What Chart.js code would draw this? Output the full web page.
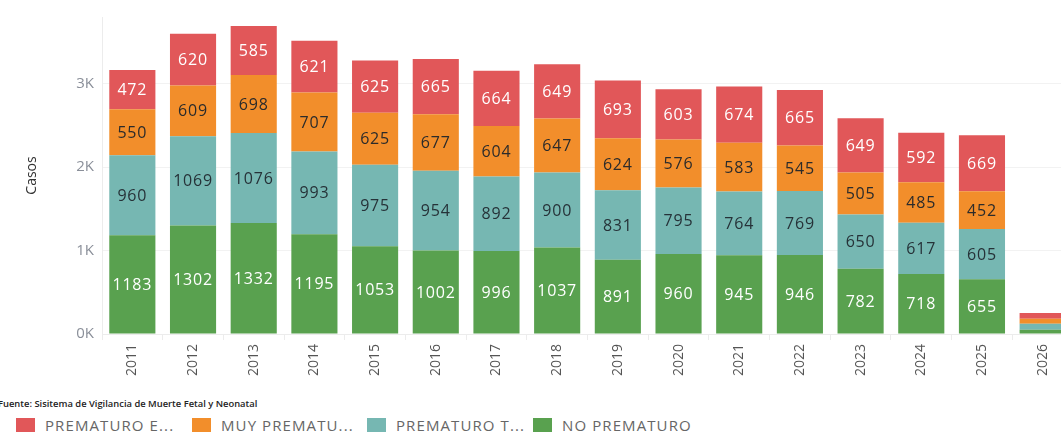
<!DOCTYPE html>
<html>
<head>
<meta charset="utf-8">
<script src="https://cdn.jsdelivr.net/npm/chart.js@4.4.1/dist/chart.umd.min.js"></script>
<style>
  html, body { margin: 0; padding: 0; background: #fff; width: 1061px; height: 432px; overflow: hidden; }
  #wrap { position: absolute; left: 0; top: 0; width: 1080px; height: 390px; }
  #note { position: absolute; left: -2px; top: 397px; font: 600 9.4px "Open Sans", sans-serif; color: #222; white-space: nowrap; }
  #legend { position: absolute; left: 0; top: 418px; height: 20px; font: 15px "Open Sans", sans-serif; color: #666; letter-spacing: 1.1px; }
  .item { position: absolute; top: 0; white-space: nowrap; }
  .sw { position: absolute; top: 0; width: 19px; height: 19px; }
  .lb { position: absolute; top: -3px; }
</style>
</head>
<body>
<div id="wrap"><canvas id="chart" width="1080" height="390"></canvas></div>
<div id="note">Fuente: Sisitema de Vigilancia de Muerte Fetal y Neonatal</div>
<div id="legend"></div>
<script>
// years on the x axis
const years = ['2011', '2012', '2013', '2014', '2015', '2016', '2017', '2018',
               '2019', '2020', '2021', '2022', '2023', '2024', '2025', '2026']

// cases per category
const noPrematuro = [1183, 1302, 1332, 1195, 1053, 1002, 996, 1037, 891, 960, 945, 946, 782, 718, 655, 50]
const prematuroTardio = [960, 1069, 1076, 993, 975, 954, 892, 900, 831, 795, 764, 769, 650, 617, 605, 72]
const muyPrematuro = [550, 609, 698, 707, 625, 677, 604, 647, 624, 576, 583, 545, 505, 485, 452, 60]
const prematuroExtremo = [472, 620, 585, 621, 625, 665, 664, 649, 693, 603, 674, 665, 649, 592, 669, 70]

// y axis ticks
const yTicks = [0, 1000, 2000, 3000]

// legend text as shown (truncated in the original)
const legendText = ['PREMATURO E...', 'MUY PREMATU...', 'PREMATURO T...', 'NO PREMATURO']
const legendX = [16, 192, 367, 533]

const colors = {
    extremo: '#e15759',
    muy: '#f28e2b',
    tardio: '#76b7b2',
    no: '#59a14f'
}

// draws the value inside each bar segment
const segmentLabels = {
    id: 'segmentLabels',
    afterDatasetsDraw(chart) {
        const ctx = chart.ctx
        ctx.save()
        ctx.font = '16px "Open Sans", sans-serif'
        ctx.letterSpacing = '0.8px'
        ctx.textAlign = 'center'
        ctx.textBaseline = 'middle'
        chart.data.datasets.forEach((ds, i) => {
            const meta = chart.getDatasetMeta(i)
            meta.data.forEach((bar, j) => {
                const v = ds.data[j]
                if (v < 150) return
                ctx.fillStyle = ds.labelColor
                ctx.fillText(String(v), bar.x, (bar.y + bar.base) / 2 + 1)
            })
        })
        ctx.restore()
    }
}

new Chart(document.getElementById('chart'), {
    type: 'bar',
    data: {
        labels: years,
        datasets: [
            { label: 'NO PREMATURO', data: noPrematuro, backgroundColor: colors.no, labelColor: '#ffffff' },
            { label: 'PREMATURO TARDÍO', data: prematuroTardio, backgroundColor: colors.tardio, labelColor: '#263238' },
            { label: 'MUY PREMATURO', data: muyPrematuro, backgroundColor: colors.muy, labelColor: '#2b2b2b' },
            { label: 'PREMATURO EXTREMO', data: prematuroExtremo, backgroundColor: colors.extremo, labelColor: '#ffffff' }
        ]
    },
    options: {
        responsive: false,
        animation: false,
        barPercentage: 0.76,
        categoryPercentage: 1,
        layout: { padding: { top: 11, right: 7, left: 0, bottom: 0 } },
        plugins: {
            legend: { display: false },
            tooltip: { enabled: false }
        },
        scales: {
            x: {
                stacked: true,
                afterFit: (scale) => { scale.height = 56 },
                grid: { drawOnChartArea: false, offset: true, color: '#ececec', tickLength: 6 },
                border: { color: '#ececec' },
                ticks: {
                    maxRotation: 90,
                    minRotation: 90,
                    padding: 4,
                    color: '#555',
                    font: { family: 'Open Sans', size: 14 }
                }
            },
            y: {
                stacked: true,
                min: 0,
                max: 3800,
                afterFit: (scale) => { scale.width = 102 },
                afterBuildTicks: (scale) => { scale.ticks = yTicks.map(v => ({ value: v })) },
                grid: { color: '#f2f2f2', drawTicks: false },
                border: { color: '#ececec' },
                ticks: {
                    padding: 8,
                    color: '#8a8f99',
                    font: { family: 'Open Sans', size: 15 },
                    callback: (v) => (v / 1000) + 'K'
                },
                title: {
                    display: true,
                    text: 'Casos',
                    color: '#333',
                    font: { family: 'Open Sans', size: 14 },
                    padding: { top: 24, bottom: 0 }
                }
            }
        }
    },
    plugins: [segmentLabels]
})

// html legend under the chart
const legend = document.getElementById('legend')
const swatches = [colors.extremo, colors.muy, colors.tardio, colors.no]
legendText.forEach((t, i) => {
    const item = document.createElement('div')
    item.className = 'item'
    item.style.left = legendX[i] + 'px'
    item.innerHTML = '<div class="sw" style="background:' + swatches[i] + '"></div><div class="lb" style="left:29px">' + t + '</div>'
    legend.appendChild(item)
})
</script>
</body>
</html>
